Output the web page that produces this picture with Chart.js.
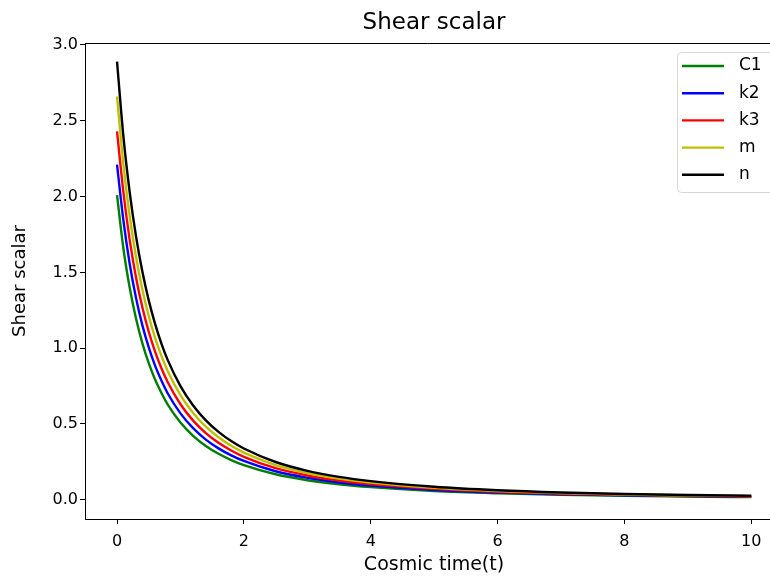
<!DOCTYPE html>
<html>
<head>
<meta charset="utf-8">
<script src="https://cdn.jsdelivr.net/npm/chart.js@4/dist/chart.umd.min.js"></script>
<style>
    html, body { margin: 0; padding: 0; background: #fff; overflow: hidden; }
    #wrap { width: 770px; height: 576px; }
</style>
</head>
<body>
<div id="wrap"><canvas id="chart-area" width="770" height="576"></canvas></div>
<script>
//values
var timeValues = [0, 0.1, 0.2, 0.3, 0.4, 0.5, 0.6, 0.7, 0.8, 1.0, 1.2, 1.4, 1.6, 1.8, 2.0, 2.5, 3.0, 3.5, 4.0, 5.0, 6.0, 7.0, 8.0, 9.0, 10.0];
var c1Values = [2.01, 1.659, 1.398, 1.194, 1.032, 0.901, 0.793, 0.704, 0.628, 0.510, 0.422, 0.355, 0.303, 0.262, 0.228, 0.168, 0.129, 0.102, 0.083, 0.057, 0.042, 0.032, 0.026, 0.021, 0.017];
var k2Values = [2.21, 1.844, 1.555, 1.330, 1.150, 1.005, 0.885, 0.786, 0.701, 0.570, 0.472, 0.397, 0.339, 0.293, 0.256, 0.188, 0.145, 0.114, 0.093, 0.064, 0.047, 0.036, 0.029, 0.024, 0.019];
var k3Values = [2.43, 2.029, 1.713, 1.465, 1.268, 1.108, 0.977, 0.867, 0.775, 0.630, 0.522, 0.440, 0.376, 0.325, 0.283, 0.208, 0.160, 0.127, 0.103, 0.072, 0.052, 0.040, 0.032, 0.026, 0.021];
var mValues = [2.66, 2.213, 1.870, 1.601, 1.386, 1.212, 1.068, 0.949, 0.848, 0.690, 0.572, 0.482, 0.412, 0.356, 0.311, 0.229, 0.176, 0.139, 0.113, 0.079, 0.058, 0.044, 0.035, 0.029, 0.024];
var nValues = [2.89, 2.398, 2.027, 1.736, 1.504, 1.315, 1.160, 1.030, 0.921, 0.750, 0.622, 0.524, 0.448, 0.387, 0.338, 0.249, 0.191, 0.151, 0.123, 0.086, 0.063, 0.048, 0.038, 0.031, 0.026];

var seriesLabels = ['C1', 'k2', 'k3', 'm', 'n'];
var seriesColors = ['#008000', '#0000ff', '#ff0000', '#bfbf00', '#000000'];
var xTicks = [0, 2, 4, 6, 8, 10];
var yTicks = [0, 0.5, 1.0, 1.5, 2.0, 2.5, 3.0];

var fontFamily = "'DejaVu Sans', sans-serif";

function toPoints(values) {
    return values.map(function (v, i) { return { x: timeValues[i], y: v }; });
}

var allValues = [c1Values, k2Values, k3Values, mValues, nValues];
var datasets = allValues.map(function (vals, i) {
    return {
        label: seriesLabels[i],
        data: toPoints(vals),
        borderColor: seriesColors[i],
        backgroundColor: seriesColors[i],
        borderWidth: 2.4,
        pointRadius: 0,
        fill: false,
        cubicInterpolationMode: 'monotone',
        order: allValues.length - i //first series at the back, like matplotlib
    };
});

//title, x label, top spine and the boxed legend drawn by hand
//the reference is cropped on the right, so the axes run off the edge
//and the texts are centred on the full (uncropped) axes width
var framePlugin = {
    id: 'frame',
    afterDatasetsDraw: function (chart) {
        var ctx = chart.ctx;
        var area = chart.chartArea;
        var fullCenterX = 434;
        ctx.save();
        ctx.strokeStyle = '#000';
        ctx.lineWidth = 1;
        ctx.beginPath();
        ctx.moveTo(area.left, area.top + 0.5);
        ctx.lineTo(area.right, area.top + 0.5);
        ctx.stroke();

        ctx.fillStyle = '#000';
        ctx.textAlign = 'center';
        ctx.textBaseline = 'middle';
        ctx.font = '23px ' + fontFamily;
        ctx.fillText('Shear scalar', fullCenterX, 23);
        ctx.font = '19px ' + fontFamily;
        ctx.fillText('Cosmic time(t)', fullCenterX, 565);

        //legend box
        var boxLeft = 677, boxTop = 52, boxRight = 790, boxBottom = 192;
        ctx.beginPath();
        ctx.roundRect(boxLeft + 0.5, boxTop + 0.5, boxRight - boxLeft, boxBottom - boxTop, 4);
        ctx.fillStyle = 'rgba(255,255,255,0.8)';
        ctx.fill();
        ctx.strokeStyle = '#d6d6d6';
        ctx.stroke();

        ctx.font = '17px ' + fontFamily;
        ctx.textAlign = 'left';
        chart.data.datasets.forEach(function (ds, i) {
            var y = 66 + i * 27.2;
            ctx.strokeStyle = ds.borderColor;
            ctx.lineWidth = 2.4;
            ctx.beginPath();
            ctx.moveTo(682, y);
            ctx.lineTo(724, y);
            ctx.stroke();
            ctx.fillStyle = '#000';
            ctx.fillText(ds.label, 739, y);
        });
        ctx.restore();
    }
};

var chart = new Chart(document.getElementById('chart-area').getContext('2d'), {
    type: 'line',
    data: { datasets: datasets },
    plugins: [framePlugin],
    options: {
        responsive: false,
        animation: false,
        layout: { padding: { top: 43, right: 0, bottom: 0, left: 0 } },
        plugins: {
            legend: { display: false },
            tooltip: { enabled: false }
        },
        scales: {
            x: {
                type: 'linear',
                min: -0.505,
                max: 10.295, //axis continues past the cropped right edge
                afterFit: function (s) { s.height = 57; },
                afterBuildTicks: function (s) { s.ticks = xTicks.map(function (v) { return { value: v }; }); },
                ticks: {
                    color: '#000',
                    padding: 8,
                    maxRotation: 0,
                    font: { family: fontFamily, size: 16 },
                    callback: function (v) { return String(v); }
                },
                grid: { drawOnChartArea: false, drawTicks: true, tickLength: 5, color: '#000' },
                border: { display: true, color: '#000', width: 1 }
            },
            y: {
                type: 'linear',
                min: -0.127,
                max: 3.013,
                afterFit: function (s) { s.width = 85; },
                afterBuildTicks: function (s) { s.ticks = yTicks.map(function (v) { return { value: v }; }); },
                ticks: {
                    color: '#000',
                    padding: 2,
                    font: { family: fontFamily, size: 16 },
                    callback: function (v) { return Number(v).toFixed(1); }
                },
                grid: { drawOnChartArea: false, drawTicks: true, tickLength: 5, color: '#000' },
                border: { display: true, color: '#000', width: 1 },
                title: {
                    display: true,
                    text: 'Shear scalar',
                    color: '#000',
                    padding: { top: 10, bottom: 0 },
                    font: { family: fontFamily, size: 18 }
                }
            }
        }
    }
});
</script>
</body>
</html>
